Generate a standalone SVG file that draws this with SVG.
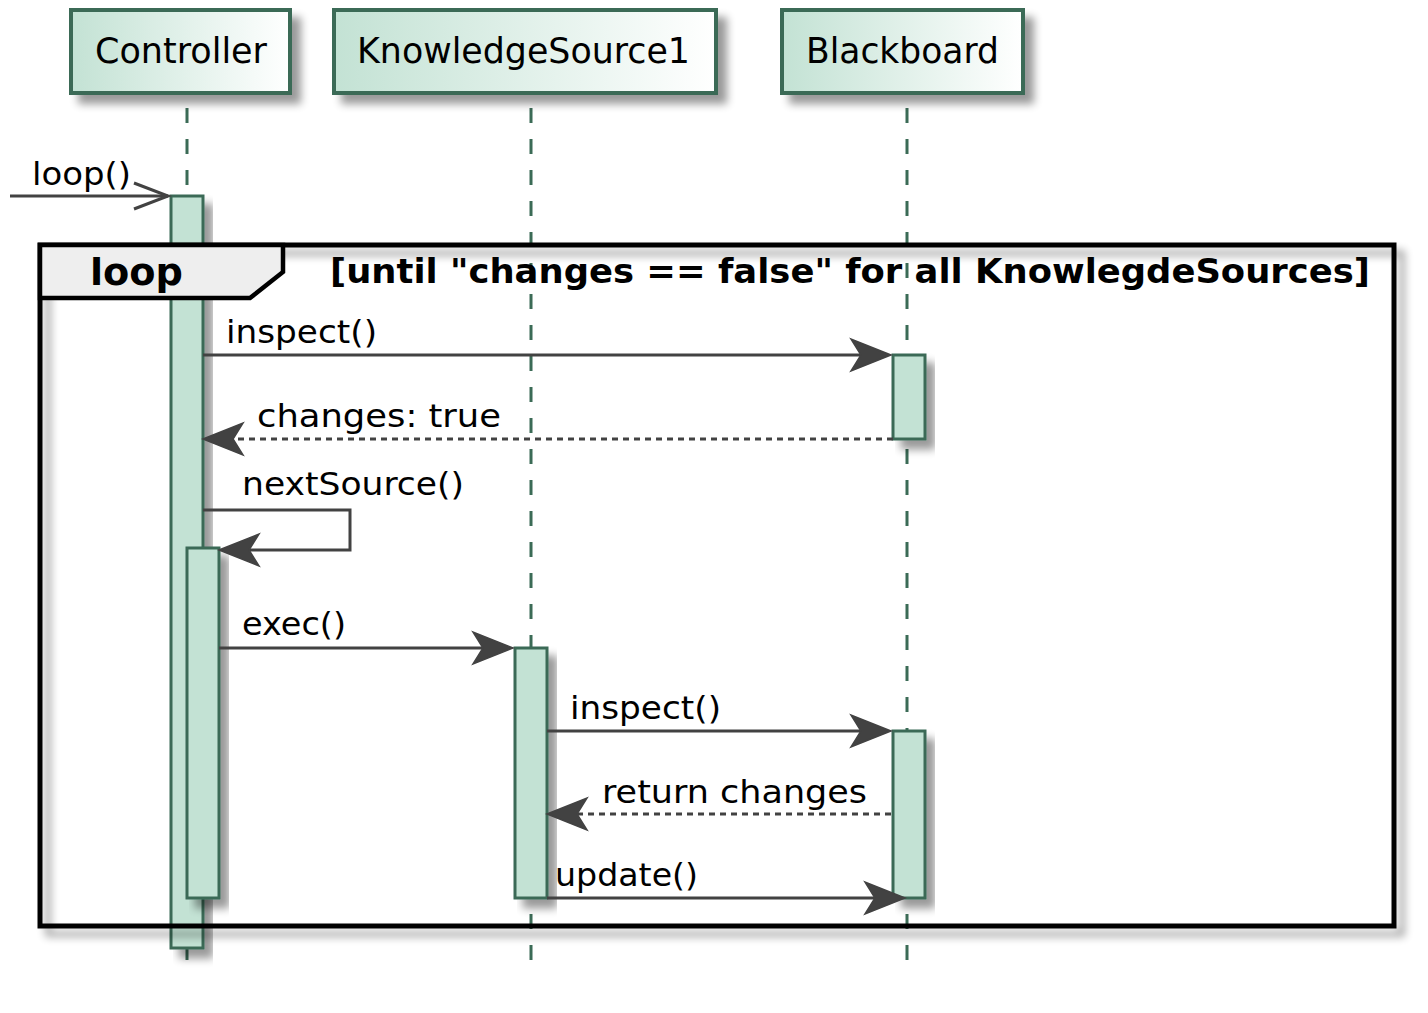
<svg xmlns="http://www.w3.org/2000/svg" width="1428" height="1013" viewBox="0 0 1428 1013">
<defs>
<linearGradient id="pg" x1="0" y1="0" x2="1" y2="0">
<stop offset="0" stop-color="#c3e2d4"/>
<stop offset="1" stop-color="#ffffff"/>
</linearGradient>
<filter id="sh" x="-20%" y="-20%" width="150%" height="160%">
<feGaussianBlur in="SourceAlpha" stdDeviation="4" result="b"/>
<feOffset in="b" dx="9" dy="9" result="o"/>
<feComponentTransfer in="o" result="s"><feFuncA type="linear" slope="0.4"/></feComponentTransfer>
<feMerge><feMergeNode in="s"/><feMergeNode in="SourceGraphic"/></feMerge>
</filter>
<filter id="shf" x="-5%" y="-5%" width="110%" height="115%">
<feGaussianBlur in="SourceAlpha" stdDeviation="4" result="b"/>
<feOffset in="b" dx="8" dy="8" result="o"/>
<feComponentTransfer in="o" result="s"><feFuncA type="linear" slope="0.4"/></feComponentTransfer>
<feMerge><feMergeNode in="s"/><feMergeNode in="SourceGraphic"/></feMerge>
</filter>
</defs>
<style>
.part{fill:url(#pg);stroke:#3b6b56;stroke-width:4;filter:url(#sh)}
.pt{font-family:"DejaVu Sans",sans-serif;font-size:35px;fill:#000}
.life{stroke:#3b6b56;stroke-width:3;stroke-dasharray:15,16;fill:none}
.act{fill:#c3e2d4;stroke:#3b6b56;stroke-width:3;filter:url(#sh)}
.msg{stroke:#424242;stroke-width:3;fill:none}
.ret{stroke:#424242;stroke-width:3;fill:none;stroke-dasharray:6,5}
.ah{fill:#424242;stroke:#424242;stroke-width:1.5}
.mt{font-family:"DejaVu Sans",sans-serif;font-size:32.5px;fill:#000}
.bt{font-family:"DejaVu Sans",sans-serif;font-weight:bold;fill:#000}
</style>

<g id="lifelines">
<line class="life" x1="187" y1="108" x2="187" y2="968"/>
<line class="life" x1="531" y1="108" x2="531" y2="968"/>
<line class="life" x1="907" y1="108" x2="907" y2="968"/>
</g>

<g id="controller">
<rect class="part" x="71" y="10" width="219" height="83"/>
<text class="pt" x="95" y="63" textLength="172" lengthAdjust="spacingAndGlyphs">Controller</text>
</g>
<g id="knowledgesource1">
<rect class="part" x="334" y="10" width="382" height="83"/>
<text class="pt" x="357" y="63" textLength="333" lengthAdjust="spacingAndGlyphs">KnowledgeSource1</text>
</g>
<g id="blackboard">
<rect class="part" x="782" y="10" width="241" height="83"/>
<text class="pt" x="806" y="63" textLength="193" lengthAdjust="spacingAndGlyphs">Blackboard</text>
</g>

<g id="activations">
<rect class="act" x="171" y="196" width="32" height="752"/>
<rect class="act" x="187" y="548" width="32" height="350"/>
<rect class="act" x="515" y="648" width="32" height="250"/>
<rect class="act" x="893" y="355" width="32" height="84"/>
<rect class="act" x="893" y="731" width="32" height="167"/>
</g>

<g id="loop-frame">
<rect x="40" y="245" width="1354" height="681" fill="none" stroke="#000" stroke-width="5" filter="url(#shf)"/>
<polygon points="40,245 283,245 283,272 250,298 40,298" fill="#eeeeee" stroke="#000" stroke-width="4.5"/>
<text class="bt" x="90" y="285" font-size="38" textLength="93" lengthAdjust="spacingAndGlyphs">loop</text>
<text class="bt" x="330" y="283" font-size="34" textLength="1040" lengthAdjust="spacingAndGlyphs">[until "changes == false" for all KnowlegdeSources]</text>
</g>

<g id="connectors">
<line class="msg" x1="10" y1="196" x2="168" y2="196"/>
<polyline class="msg" points="134,183 168,196 134,209"/>
<text class="mt" x="32" y="185" textLength="99" lengthAdjust="spacingAndGlyphs">loop()</text>

<line class="msg" x1="203" y1="355" x2="885" y2="355"/>
<polygon class="ah" points="891,355 851,339 861,355 851,371"/>
<text class="mt" x="226" y="343" textLength="151" lengthAdjust="spacingAndGlyphs">inspect()</text>

<line class="ret" x1="893" y1="439" x2="212" y2="439"/>
<polygon class="ah" points="203,439 243,423 233,439 243,455"/>
<text class="mt" x="257" y="427" textLength="244" lengthAdjust="spacingAndGlyphs">changes: true</text>

<polyline class="msg" points="203,510 350,510 350,550 226,550"/>
<polygon class="ah" points="219,550 259,534 249,550 259,566"/>
<text class="mt" x="242" y="495" textLength="222" lengthAdjust="spacingAndGlyphs">nextSource()</text>

<line class="msg" x1="219" y1="648" x2="507" y2="648"/>
<polygon class="ah" points="513,648 473,632 483,648 473,664"/>
<text class="mt" x="242" y="635" textLength="104" lengthAdjust="spacingAndGlyphs">exec()</text>

<line class="msg" x1="547" y1="731" x2="885" y2="731"/>
<polygon class="ah" points="891,731 851,715 861,731 851,747"/>
<text class="mt" x="570" y="719" textLength="151" lengthAdjust="spacingAndGlyphs">inspect()</text>

<line class="ret" x1="891" y1="814" x2="555" y2="814"/>
<polygon class="ah" points="547,814 587,798 577,814 587,830"/>
<text class="mt" x="602" y="803" textLength="265" lengthAdjust="spacingAndGlyphs">return changes</text>

<line class="msg" x1="547" y1="898" x2="899" y2="898"/>
<polygon class="ah" points="905,898 865,882 875,898 865,914"/>
<text class="mt" x="555" y="886" textLength="143" lengthAdjust="spacingAndGlyphs">update()</text>
</g>
</svg>
